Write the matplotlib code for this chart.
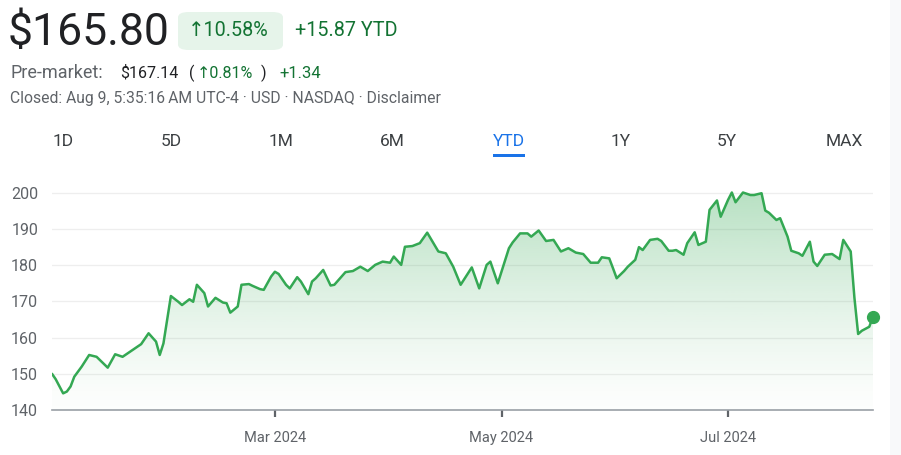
import numpy as np
import pandas as pd
import matplotlib
matplotlib.use("Agg")
import matplotlib.pyplot as plt
import matplotlib.dates as mdates
from matplotlib.patches import FancyBboxPatch, Rectangle

plt.rcParams['font.family'] = ['Roboto', 'DejaVu Sans']

# price readings (date, close)
dates = ["2024-01-01", "2024-01-02", "2024-01-04", "2024-01-05", "2024-01-06", "2024-01-07",
         "2024-01-09", "2024-01-11", "2024-01-13", "2024-01-16", "2024-01-18", "2024-01-20",
         "2024-01-22", "2024-01-25", "2024-01-27", "2024-01-29", "2024-01-30", "2024-01-31",
         "2024-02-02", "2024-02-04", "2024-02-05", "2024-02-07", "2024-02-08", "2024-02-09",
         "2024-02-11", "2024-02-12", "2024-02-14", "2024-02-16", "2024-02-17", "2024-02-18",
         "2024-02-20", "2024-02-21", "2024-02-23", "2024-02-24", "2024-02-26", "2024-02-27",
         "2024-02-29", "2024-03-01", "2024-03-02", "2024-03-04", "2024-03-05", "2024-03-07",
         "2024-03-08", "2024-03-10", "2024-03-11", "2024-03-12", "2024-03-14", "2024-03-16",
         "2024-03-17", "2024-03-20", "2024-03-22", "2024-03-24", "2024-03-26", "2024-03-28",
         "2024-03-30", "2024-04-01", "2024-04-02", "2024-04-04", "2024-04-05", "2024-04-07",
         "2024-04-09", "2024-04-11", "2024-04-14", "2024-04-16", "2024-04-18", "2024-04-20",
         "2024-04-23", "2024-04-25", "2024-04-27", "2024-04-28", "2024-04-30", "2024-05-03",
         "2024-05-04", "2024-05-06", "2024-05-08", "2024-05-09", "2024-05-11", "2024-05-13",
         "2024-05-15", "2024-05-17", "2024-05-19", "2024-05-21", "2024-05-23", "2024-05-25",
         "2024-05-27", "2024-05-28", "2024-05-30", "2024-05-31", "2024-06-01", "2024-06-03",
         "2024-06-04", "2024-06-06", "2024-06-07", "2024-06-08", "2024-06-10", "2024-06-12",
         "2024-06-13", "2024-06-15", "2024-06-16", "2024-06-17", "2024-06-19", "2024-06-20",
         "2024-06-22", "2024-06-23", "2024-06-25", "2024-06-26", "2024-06-28", "2024-06-29",
         "2024-07-01", "2024-07-02", "2024-07-03", "2024-07-05", "2024-07-07", "2024-07-08",
         "2024-07-10", "2024-07-11", "2024-07-12", "2024-07-14", "2024-07-15", "2024-07-17",
         "2024-07-18", "2024-07-20", "2024-07-21", "2024-07-23", "2024-07-24", "2024-07-25",
         "2024-07-27", "2024-07-29", "2024-07-31", "2024-08-01", "2024-08-03", "2024-08-04",
         "2024-08-05", "2024-08-06", "2024-08-08", "2024-08-09"]
prices = [150.0, 148.5, 144.6, 145.1, 146.5, 149.2,
          152.0, 155.2, 154.7, 151.7, 155.4, 154.7,
          156.1, 158.2, 161.2, 158.9, 155.2, 158.4,
          171.5, 169.9, 169.0, 170.6, 169.9, 174.6,
          172.3, 168.6, 171.0, 169.7, 169.5, 166.9,
          168.6, 174.6, 174.8, 174.3, 173.4, 173.2,
          176.9, 178.2, 177.6, 174.6, 173.6, 176.7,
          175.5, 172.0, 175.5, 176.4, 178.7, 174.4,
          174.6, 178.1, 178.4, 179.6, 178.4, 180.1,
          181.0, 180.7, 182.4, 180.1, 185.1, 185.3,
          186.1, 189.0, 183.8, 183.3, 179.6, 174.6,
          179.4, 173.6, 180.1, 181.0, 175.0, 184.7,
          186.3, 188.8, 188.8, 187.9, 189.6, 186.7,
          187.0, 183.8, 184.7, 183.5, 183.1, 180.7,
          180.7, 182.2, 181.9, 179.2, 176.4, 178.4,
          179.6, 181.5, 185.0, 184.2, 187.0, 187.3,
          186.7, 184.0, 184.0, 184.2, 182.9, 186.1,
          189.1, 185.6, 186.5, 195.3, 197.9, 193.4,
          198.1, 200.1, 197.4, 200.1, 199.4, 199.4,
          199.9, 195.1, 194.5, 192.5, 193.0, 187.9,
          184.0, 183.3, 182.6, 186.5, 181.0, 179.8,
          182.9, 183.1, 181.7, 187.0, 183.8, 171.0,
          161.0, 161.9, 163.0, 165.8]

y_ticks = [140, 150, 160, 170, 180, 190, 200]
x_ticks = ["2024-03-01", "2024-05-01", "2024-07-01"]
x_tick_labels = ["Mar 2024", "May 2024", "Jul 2024"]
tabs = ["1D", "5D", "1M", "6M", "YTD", "1Y", "5Y", "MAX"]
tab_x = [63, 171, 281, 392, 509, 621, 727, 844]

GREEN = "#34a853"
DARK_GREEN = "#137333"
GRAY = "#5f6368"
DARK = "#202124"
BLUE = "#1a73e8"

W, H = 901, 455
fig = plt.figure(figsize=(W / 100, H / 100), dpi=100)
fig.patch.set_facecolor("white")

x = mdates.date2num(pd.to_datetime(dates))
y = np.array(prices)
x_lo = mdates.date2num(pd.Timestamp("2024-01-01"))
x_hi = mdates.date2num(pd.Timestamp("2024-08-09"))

ax = fig.add_axes([52 / W, 45 / H, 821 / W, 228 / H])

# gradient fill under the line
poly = ax.fill_between(x, y, 140, color="none", lw=0)
grad = np.linspace(0, 1, 256).reshape(-1, 1)
rgba = np.zeros((256, 1, 4))
rgba[..., 0] = 52 / 255
rgba[..., 1] = 168 / 255
rgba[..., 2] = 83 / 255
rgba[..., 3] = 0.01 + 0.34 * grad ** 1.3
im = ax.imshow(rgba, extent=[x[0], x[-1], 140, 200], origin="lower", aspect="auto", zorder=1)
im.set_clip_path(poly.get_paths()[0], transform=ax.transData)
ax.set_xlim(x_lo, x_hi)
ax.set_ylim(140, 203)

ax.plot(x, y, color=GREEN, lw=1.8, solid_joinstyle="round", solid_capstyle="round", zorder=3)
ax.plot(x[-1], y[-1], "o", color=GREEN, ms=8.5, zorder=4, clip_on=False)

for s in ["top", "right", "left"]:
    ax.spines[s].set_visible(False)
ax.spines["bottom"].set_color("#9aa0a6")
ax.spines["bottom"].set_linewidth(1.2)

ax.set_yticks(y_ticks)
ax.set_yticklabels([str(v) for v in y_ticks])
ax.tick_params(axis="y", length=0, pad=10, labelsize=11.5, labelcolor=GRAY)
ax.grid(axis="y", color="#eeeeee", lw=0.9, zorder=0)
ax.set_axisbelow(True)

ax.set_xticks(mdates.date2num(pd.to_datetime(x_ticks)))
ax.set_xticklabels(x_tick_labels)
ax.tick_params(axis="x", length=5, width=1.6, color="#5f6368", direction="out",
               pad=10, labelsize=10.5, labelcolor=GRAY)

# header
def px(xp, yp):
    return xp / W, 1 - yp / H

fig.text(*px(8, 33), "$165.80", fontsize=32, color=DARK, va="center", ha="left")
badge = FancyBboxPatch(px(178, 50), 105 / W, 38 / H, boxstyle="round,pad=0,rounding_size=0.012",
                       transform=fig.transFigure, fc="#e6f4ea", ec="none")
fig.patches.append(badge)
fig.text(*px(188, 31), "\u219110.58%", fontsize=14.2, color=DARK_GREEN, va="center", ha="left")
fig.text(*px(295, 31), "+15.87 YTD", fontsize=14.2, color=DARK_GREEN, va="center", ha="left")

fig.text(*px(10, 73), "Pre-market:", fontsize=13, color=GRAY, va="center", ha="left")
fig.text(*px(120, 73), "$167.14", fontsize=11.5, color=DARK, va="center", ha="left")
fig.text(*px(189, 73), "(", fontsize=11.5, color=DARK, va="center", ha="left")
fig.text(*px(197, 73), "\u21910.81%", fontsize=11.5, color=DARK_GREEN, va="center", ha="left")
fig.text(*px(261, 73), ")", fontsize=11.5, color=DARK, va="center", ha="left")
fig.text(*px(279, 73), "+1.34", fontsize=12, color=DARK_GREEN, va="center", ha="left")

fig.text(*px(10, 98), "Closed: Aug 9, 5:35:16\u202fAM UTC-4 \u00b7 USD \u00b7 NASDAQ \u00b7 Disclaimer",
         fontsize=11.3, color=GRAY, va="center", ha="left")

for lab, tx in zip(tabs, tab_x):
    fig.text(*px(tx, 142), lab, fontsize=12.5, color=BLUE if lab == "YTD" else "#3c4043",
             va="center", ha="center")
fig.patches.append(Rectangle(px(493, 157), 32 / W, 3 / H, transform=fig.transFigure,
                             fc=BLUE, ec="none"))
fig.patches.append(Rectangle(px(890, 455), 11 / W, 1, transform=fig.transFigure,
                             fc="#f8f9fa", ec="none"))

fig.savefig("out.png", dpi=100)
